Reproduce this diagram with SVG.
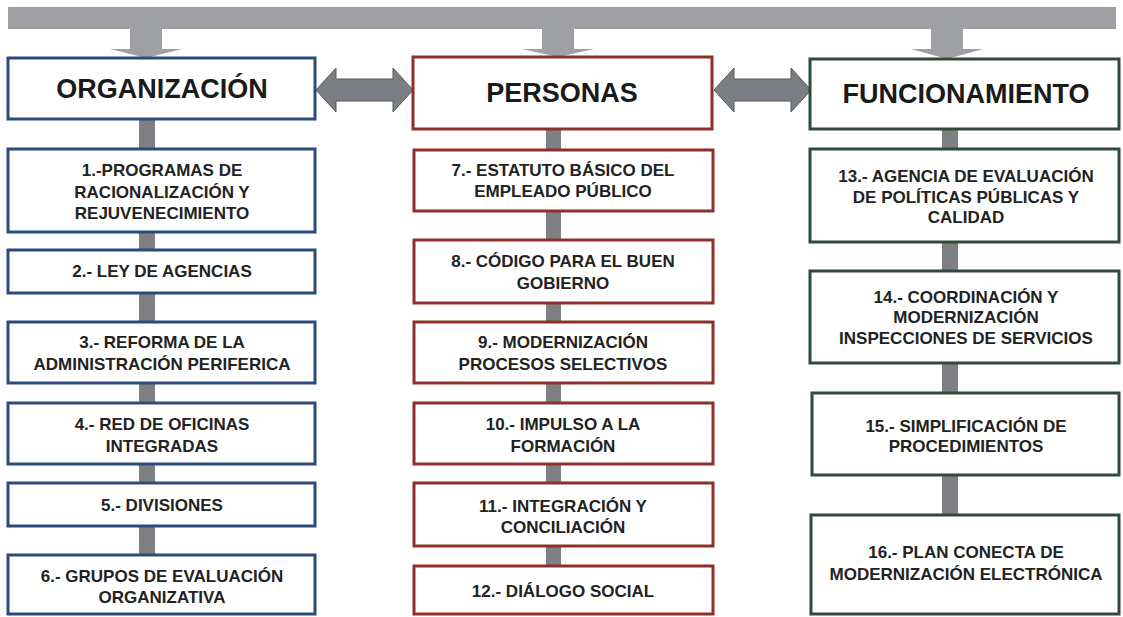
<svg xmlns="http://www.w3.org/2000/svg" width="1123" height="617" viewBox="0 0 1123 617">
<style>
.box{fill:#fff;stroke-width:3}
.b{stroke:#2d4a7c}
.r{stroke:#8e2f2c}
.g{stroke:#2e4a3b}
.t{font-family:"Liberation Sans",Arial,sans-serif;font-weight:bold;font-size:17px;fill:#222;text-anchor:middle}
.h{font-family:"Liberation Sans",Arial,sans-serif;font-weight:bold;font-size:27px;fill:#1a1a1a;text-anchor:middle}
.bar{fill:#9ea0a3}
.stem{fill:#7e8084}
.dbl{fill:#7b7e82;stroke:#55585c;stroke-width:1}
</style>
<rect width="1123" height="617" fill="#fff"/>
<g id="connectors">
<rect class="bar" x="8" y="7" width="1108" height="22"/>
<path class="bar" d="M130 29H162V49H182L146 58L110 49H130Z"/>
<path class="bar" d="M542 29H574V49H594L558 57L522 49H542Z"/>
<path class="bar" d="M931 29H963V49H983L947 59L911 49H931Z"/>
<path class="dbl" d="M316 90L336 68V79H393V68L413 90L393 112V101H336V112Z"/>
<path class="dbl" d="M714 90L734 68V79H791V68L811 90L791 112V101H734V112Z"/>
<rect class="stem" x="139" y="119" width="16" height="31"/>
<rect class="stem" x="139" y="232" width="16" height="19"/>
<rect class="stem" x="139" y="293" width="16" height="30"/>
<rect class="stem" x="139" y="383" width="16" height="21"/>
<rect class="stem" x="139" y="464" width="16" height="20"/>
<rect class="stem" x="139" y="526" width="16" height="30"/>
<rect class="stem" x="546" y="129" width="15" height="22"/>
<rect class="stem" x="546" y="211" width="15" height="30"/>
<rect class="stem" x="546" y="303" width="15" height="20"/>
<rect class="stem" x="546" y="383" width="15" height="21"/>
<rect class="stem" x="546" y="464" width="15" height="20"/>
<rect class="stem" x="546" y="546" width="15" height="21"/>
<rect class="stem" x="942" y="129" width="16" height="21"/>
<rect class="stem" x="942" y="242" width="16" height="30"/>
<rect class="stem" x="942" y="363" width="16" height="31"/>
<rect class="stem" x="942" y="475" width="16" height="41"/>
</g>
<g id="organizacion"><rect class="box b" x="8" y="58" width="307" height="61"/><text class="h" x="162" y="98">ORGANIZACIÓN</text></g>
<g id="personas"><rect class="box r" x="413" y="57" width="299" height="72"/><text class="h" x="562" y="102">PERSONAS</text></g>
<g id="funcionamiento"><rect class="box g" x="810" y="59" width="309" height="70"/><text class="h" x="966" y="103">FUNCIONAMIENTO</text></g>

<g id="n1"><rect class="box b" x="8" y="149" width="307" height="83"/><text class="t" x="162" y="176">1.-PROGRAMAS DE</text><text class="t" x="162" y="198">RACIONALIZACIÓN Y</text><text class="t" x="162" y="219">REJUVENECIMIENTO</text></g>
<g id="n2"><rect class="box b" x="8" y="250" width="307" height="43"/><text class="t" x="162" y="277">2.- LEY DE AGENCIAS</text></g>
<g id="n3"><rect class="box b" x="8" y="322" width="307" height="61"/><text class="t" x="162" y="348">3.- REFORMA DE LA</text><text class="t" x="162" y="370">ADMINISTRACIÓN PERIFERICA</text></g>
<g id="n4"><rect class="box b" x="8" y="403" width="307" height="61"/><text class="t" x="162" y="430">4.- RED DE OFICINAS</text><text class="t" x="162" y="452">INTEGRADAS</text></g>
<g id="n5"><rect class="box b" x="8" y="483" width="307" height="43"/><text class="t" x="162" y="511">5.- DIVISIONES</text></g>
<g id="n6"><rect class="box b" x="8" y="555" width="307" height="59"/><text class="t" x="162" y="582">6.- GRUPOS DE EVALUACIÓN</text><text class="t" x="162" y="603">ORGANIZATIVA</text></g>

<g id="n7"><rect class="box r" x="414" y="150" width="299" height="61"/><text class="t" x="563" y="176">7.- ESTATUTO BÁSICO DEL</text><text class="t" x="563" y="197">EMPLEADO PÚBLICO</text></g>
<g id="n8"><rect class="box r" x="414" y="240" width="299" height="63"/><text class="t" x="563" y="267">8.- CÓDIGO PARA EL BUEN</text><text class="t" x="563" y="289">GOBIERNO</text></g>
<g id="n9"><rect class="box r" x="414" y="322" width="299" height="61"/><text class="t" x="563" y="348">9.- MODERNIZACIÓN</text><text class="t" x="563" y="370">PROCESOS SELECTIVOS</text></g>
<g id="n10"><rect class="box r" x="414" y="403" width="299" height="61"/><text class="t" x="563" y="430">10.- IMPULSO A LA</text><text class="t" x="563" y="452">FORMACIÓN</text></g>
<g id="n11"><rect class="box r" x="414" y="483" width="299" height="63"/><text class="t" x="563" y="512">11.- INTEGRACIÓN Y</text><text class="t" x="563" y="533">CONCILIACIÓN</text></g>
<g id="n12"><rect class="box r" x="414" y="566" width="299" height="48"/><text class="t" x="563" y="597">12.- DIÁLOGO SOCIAL</text></g>

<g id="n13"><rect class="box g" x="810" y="149" width="309" height="93"/><text class="t" x="966" y="182">13.- AGENCIA DE EVALUACIÓN</text><text class="t" x="966" y="203">DE POLÍTICAS PÚBLICAS Y</text><text class="t" x="966" y="223">CALIDAD</text></g>
<g id="n14"><rect class="box g" x="810" y="271" width="309" height="92"/><text class="t" x="966" y="303">14.- COORDINACIÓN Y</text><text class="t" x="966" y="323">MODERNIZACIÓN</text><text class="t" x="966" y="344">INSPECCIONES DE SERVICIOS</text></g>
<g id="n15"><rect class="box g" x="812" y="393" width="307" height="82"/><text class="t" x="966" y="432">15.- SIMPLIFICACIÓN DE</text><text class="t" x="966" y="452">PROCEDIMIENTOS</text></g>
<g id="n16"><rect class="box g" x="811" y="515" width="308" height="99"/><text class="t" x="966" y="558">16.- PLAN CONECTA DE</text><text class="t" x="966" y="580">MODERNIZACIÓN ELECTRÓNICA</text></g>
</svg>
